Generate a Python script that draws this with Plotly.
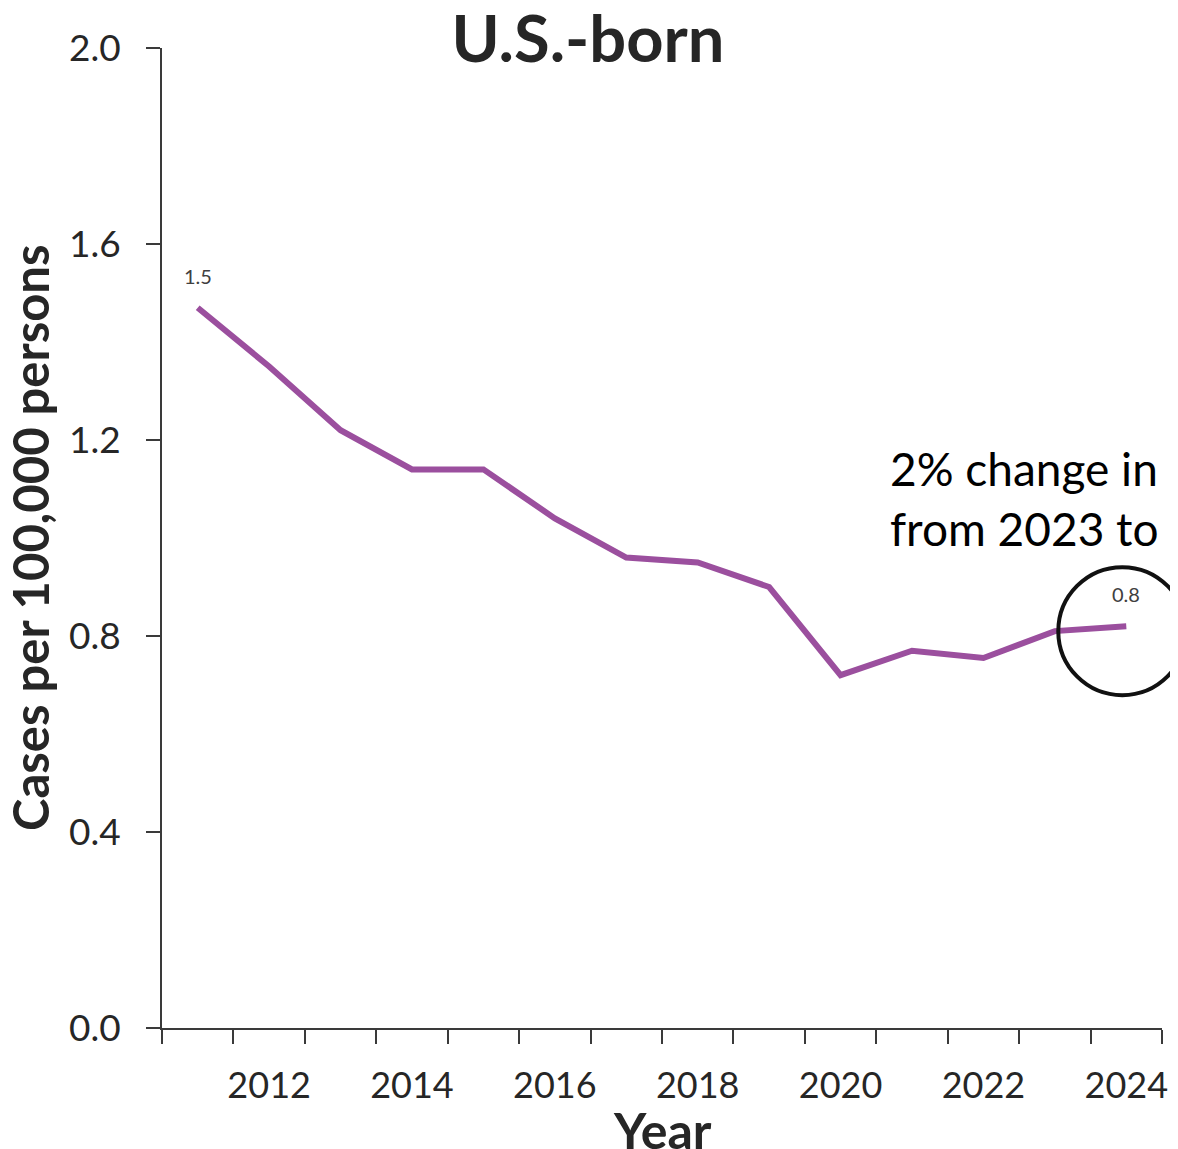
"""U.S.-born TB rate line chart, 2011-2024."""

import plotly.graph_objects as go

years = [2011, 2012, 2013, 2014, 2015, 2016, 2017, 2018, 2019, 2020, 2021, 2022, 2023, 2024]
rates = [1.47, 1.35, 1.22, 1.14, 1.14, 1.04, 0.96, 0.95, 0.90, 0.72, 0.77, 0.755, 0.81, 0.82]
label_years = [2012, 2014, 2016, 2018, 2020, 2022, 2024]
y_ticks = [0.0, 0.4, 0.8, 1.2, 1.6, 2.0]

TITLE = "U.S.-born"
X_TITLE = "Year"
Y_TITLE = "Cases per 100,000 persons"
NOTE = "2% change in rate<br>from 2023 to 2024"
FONT = "Lato"
TEXT = "#262626"
AXIS = "#3a3a3a"
PURPLE = "#9B4F9E"

# page body has an 8px margin; size the figure to end at the window edge
W, H = 1170, 1141
L, T, PW, PH = 154, 40, 1000, 980

x_lo, x_hi = years[0] - 0.5, years[-1] + 0.5
y_max = y_ticks[-1]

fig = go.Figure()
fig.add_trace(
    go.Scatter(
        x=years, y=rates, mode="lines",
        line={"color": PURPLE, "width": 6}, showlegend=False,
    )
)

# data labels on first and last points
for i in (0, -1):
    fig.add_annotation(
        x=years[i], y=rates[i], text=f"{rates[i]:.1f}", showarrow=False,
        yshift=32, font={"family": FONT, "size": 20, "color": "#404040"},
    )

# callout text, running off the right edge as in the source
fig.add_annotation(
    xref="paper", yref="paper", x=0.726, y=0.540,
    xanchor="left", yanchor="middle", align="left",
    text=NOTE, showarrow=False,
    font={"family": FONT, "size": 46, "color": "#000000"},
)

# axis titles
fig.add_annotation(
    xref="paper", yref="paper", x=-0.132, y=0.5, textangle=-90,
    xanchor="center", yanchor="middle", text=f"<b>{Y_TITLE}</b>", showarrow=False,
    font={"family": FONT, "size": 49, "color": TEXT},
)
fig.add_annotation(
    xref="paper", yref="paper", x=0.5, y=-0.1036,
    xanchor="center", yanchor="middle", text=f"<b>{X_TITLE}</b>", showarrow=False,
    font={"family": FONT, "size": 50, "color": TEXT},
)

# circle around the last point (paper refs so it is not clipped)
fig.add_shape(
    type="circle", xref="paper", yref="paper",
    xsizemode="pixel", ysizemode="pixel",
    xanchor=(years[-1] - x_lo) / (x_hi - x_lo), yanchor=rates[-1] / y_max,
    x0=-68, x1=60, y0=-69, y1=59,
    line={"color": "#111111", "width": 4},
)

fig.update_layout(
    width=W, height=H,
    margin={"l": L, "r": W - L - PW, "t": T, "b": H - T - PH},
    paper_bgcolor="white", plot_bgcolor="white",
    font={"family": FONT, "color": TEXT},
    title={
        "text": f"<b>{TITLE}</b>", "x": 580 / W, "xanchor": "center",
        "y": 1 - 31 / H, "yanchor": "middle",
        "font": {"family": FONT, "size": 65, "color": TEXT},
    },
)

fig.update_xaxes(
    range=[x_lo, x_hi], tickmode="array", tickvals=label_years,
    ticktext=[str(y) for y in label_years], ticks="", showgrid=False,
    showline=True, linecolor=AXIS, linewidth=2, zeroline=False,
    automargin=False,
    tickfont={"family": FONT, "size": 36, "color": TEXT},
    ticklabelstandoff=25,
    minor={
        "tickvals": [y - 0.5 for y in years] + [years[-1] + 0.5],
        "ticks": "outside", "ticklen": 14, "tickwidth": 2,
        "tickcolor": AXIS, "showgrid": False,
    },
)
fig.update_yaxes(
    range=[0, y_max], tickmode="array", tickvals=y_ticks,
    tickformat=".1f", ticks="outside", ticklen=14, tickwidth=2,
    tickcolor=AXIS, showgrid=False, showline=True, linecolor=AXIS,
    linewidth=2, zeroline=False, ticklabelstandoff=18, automargin=False,
    tickfont={"family": FONT, "size": 37, "color": TEXT},
)

fig.write_html("out.html")
